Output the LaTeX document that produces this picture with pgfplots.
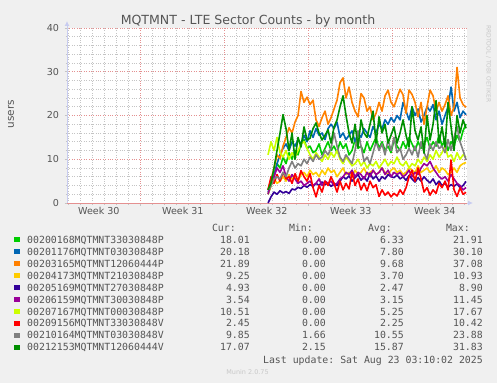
\documentclass[border=0pt]{standalone}
\usepackage{fontspec}
\setmainfont{DejaVu Sans}
\newfontfamily\monofont{DejaVu Sans Mono}
\usepackage{pgfplots}
\pgfplotsset{compat=1.18}
\usepackage{pgfplotstable}
\usetikzlibrary{arrows.meta}
\frenchspacing
\definecolor{c1}{HTML}{00CC00}
\definecolor{c2}{HTML}{0066B3}
\definecolor{c3}{HTML}{FF8000}
\definecolor{c4}{HTML}{FFCC00}
\definecolor{c5}{HTML}{330099}
\definecolor{c6}{HTML}{990099}
\definecolor{c7}{HTML}{CCFF00}
\definecolor{c8}{HTML}{FF0000}
\definecolor{c9}{HTML}{808080}
\definecolor{c10}{HTML}{008F00}
\definecolor{bg}{HTML}{F0F0F0}
\definecolor{txt}{HTML}{555555}
\definecolor{axc}{HTML}{C8CCF0}
\definecolor{mgrid}{HTML}{E49090}
\definecolor{ngrid}{HTML}{C4C4C4}
\definecolor{faint}{HTML}{C8C8C8}

\pgfplotstableread{
d     lg    bl    or    ye    db    pu    yg    rd    gy    dg
16.75 2.0   2.5   3.0   2.0   0.0   2.0   11.0  3.0   3.0   3.0
17.00 4.0   4.0   5.3   4.0   1.4   4.5   14.0  6.0   4.0   4.6
17.25 6.5   6.0   8.0   5.5   2.5   6.0   12.0  4.5   5.5   8.0
17.50 9.0   9.0   11.0  4.5   2.0   8.0   15.0  6.5   6.0   12.0
17.75 8.0   11.0  10.2  5.0   2.8   7.0   11.5  5.0   5.5   16.0
18.00 10.5  12.5  13.0  6.0   2.3   8.5   10.5  7.0   7.0   20.2
18.25 9.0   13.5  15.0  5.0   2.6   6.0   12.0  5.5   6.0   17.0
18.50 11.5  12.0  17.2  6.5   2.2   5.0   10.0  6.0   8.0   12.0
18.75 10.0  14.0  16.0  5.5   3.2   6.5   11.5  4.5   9.5   16.0
19.00 12.0  13.0  18.5  6.0   3.0   5.5   10.5  6.7   8.0   10.0
19.25 11.0  14.5  20.0  5.0   3.6   4.5   12.0  5.0   9.0   15.0
19.50 13.5  13.5  25.5  6.5   3.3   5.0   13.5  7.4   8.5   12.8
19.75 14.5  15.5  23.0  7.0   4.0   4.0   14.0  6.0   10.0  17.4
20.00 12.5  14.0  24.2  6.0   3.6   4.5   12.5  5.0   9.0   14.4
20.25 13.0  16.5  22.5  7.5   4.2   5.0   11.0  6.7   10.5  14.8
20.50 11.5  15.0  23.5  6.5   3.8   4.0   10.0  3.5   9.5   17.0
20.75 12.0  17.0  19.0  7.0   4.5   4.5   11.5  1.4   11.0  18.3
21.00 13.5  15.5  17.5  6.0   4.0   5.5   10.5  4.0   10.0  16.0
21.25 11.0  16.0  19.5  7.5   4.8   4.0   9.5   2.5   10.5  14.4
21.50 12.5  14.5  21.0  6.5   4.2   5.0   11.0  5.0   12.0  15.5
21.75 14.0  17.0  18.0  8.0   4.6   4.5   10.0  4.0   11.0  16.7
22.00 12.0  18.0  19.5  7.0   3.8   5.0   11.5  6.0   12.5  13.7
22.25 13.0  17.0  21.5  7.5   4.5   4.0   10.5  4.5   16.0  17.4
22.50 11.5  18.5  23.5  6.0   4.0   4.5   12.0  2.5   13.0  19.0
22.75 14.0  15.0  27.5  7.0   5.0   5.5   10.0  5.0   10.5  22.0
23.00 12.5  16.0  28.6  8.0   6.0   6.0   9.0   3.0   9.5   24.5
23.25 13.5  14.5  24.0  6.5   5.5   7.0   10.5  4.5   11.0  20.0
23.50 11.0  15.5  26.5  7.0   6.2   6.5   9.5   3.2   10.0  16.0
23.75 12.0  16.5  23.0  6.0   5.0   7.5   8.5   7.0   9.0   13.7
24.00 14.5  14.0  21.0  7.5   5.8   6.0   9.0   4.0   12.0  18.0
24.25 12.5  16.0  19.7  6.5   6.5   7.0   10.0  5.5   16.5  12.8
24.50 13.0  15.0  25.0  7.0   5.2   6.5   8.5   3.0   13.0  19.0
24.75 11.5  17.0  24.0  8.0   6.0   5.5   9.5   4.5   9.5   16.0
25.00 14.0  16.0  21.0  6.5   5.0   7.0   8.0   2.8   10.5  15.0
25.25 12.0  15.0  22.0  7.0   6.8   6.0   9.0   5.0   9.0   18.0
25.50 13.5  17.5  19.0  7.5   5.5   7.5   8.5   3.5   11.5  21.0
25.75 15.0  16.0  20.5  6.5   6.2   6.5   9.5   4.2   14.0  13.7
26.00 12.5  18.0  23.0  7.0   5.0   7.0   8.0   1.5   12.0  19.7
26.25 14.0  17.0  21.0  8.0   6.0   8.0   9.0   3.0   13.5  16.0
26.50 12.0  19.0  24.5  7.0   5.5   6.5   10.0  1.8   11.0  18.0
26.75 13.0  18.0  25.8  6.5   6.5   7.5   8.5   2.5   14.5  13.7
27.00 11.5  19.5  23.0  7.5   6.0   6.0   9.5   1.4   12.0  15.5
27.25 14.5  18.5  22.0  8.0   5.8   7.0   9.0   2.2   15.0  17.4
27.50 13.0  20.0  24.0  7.0   6.4   6.5   10.5  1.6   11.5  13.7
27.75 12.0  19.0  26.0  7.5   5.5   7.0   9.0   3.0   12.5  16.0
28.00 14.0  23.0  24.7  6.5   6.0   6.0   8.5   2.0   10.0  19.0
28.25 12.5  21.0  20.5  7.0   5.2   6.5   9.5   3.5   11.0  15.5
28.50 15.0  19.0  25.8  8.0   6.3   7.5   8.0   6.0   12.5  12.8
28.75 13.5  22.0  24.8  7.5   5.5   6.0   9.0   7.5   11.0  22.0
29.00 12.0  20.0  23.0  7.0   4.8   7.0   8.5   5.0   13.0  16.5
29.25 14.0  21.5  19.7  8.5   5.8   6.5   10.0  8.0   10.5  14.4
29.50 12.5  18.5  23.0  7.0   5.0   8.0   9.0   5.5   14.0  17.4
29.75 13.5  20.0  18.0  7.5   6.0   9.0   10.5  2.5   11.5  11.4
30.00 15.0  22.0  22.0  8.0   5.2   8.5   9.5   3.5   10.0  20.0
30.25 12.5  21.0  25.8  7.0   4.6   9.5   11.0  1.8   13.5  14.4
30.50 14.0  22.5  24.5  7.5   5.5   8.0   10.0  3.0   12.0  18.0
30.75 13.0  19.0  21.0  8.5   4.2   7.0   12.0  2.2   14.0  23.4
31.00 15.5  21.0  23.0  7.0   5.0   6.0   10.5  4.5   12.5  13.7
31.25 13.0  18.0  21.0  8.0   4.0   5.5   11.5  3.5   13.0  17.4
31.50 14.5  20.0  22.5  7.5   4.5   6.0   13.0  5.0   11.5  12.8
31.75 12.0  22.0  24.5  6.5   3.6   5.0   10.5  3.0   14.5  23.0
32.00 14.0  26.5  20.0  7.0   4.2   6.5   11.0  9.8   12.0  17.4
32.25 13.0  21.0  22.0  8.0   3.8   5.5   9.5   3.0   15.0  12.0
32.50 15.5  23.0  31.0  7.0   4.4   4.5   11.5  1.5   17.5  20.0
32.75 14.0  19.5  24.0  8.5   3.5   4.0   10.0  3.5   14.0  16.0
33.00 16.5  21.0  22.5  9.0   4.0   3.0   11.0  2.0   12.0  19.0
33.25 18.01 20.18 21.89 9.25  4.93  3.54  10.51 2.45  9.85  17.07
}\data

\begin{document}
\begin{tikzpicture}[x=1bp,y=1bp]
\fill[bg] (0,0) rectangle (497,383);
\useasboundingbox (0,0) rectangle (497,383);
\begin{axis}[
  at={(67bp,180bp)}, anchor=south west,
  scale only axis, width=400bp, height=175bp,
  xmin=0, xmax=33.33, ymin=0, ymax=40,
  axis background/.style={fill=white},
  axis x line*=bottom, axis y line*=left,
  x axis line style={draw=axc, line width=1bp, shorten >=-6bp, -{Latex[length=5bp,width=5bp]}},
  y axis line style={draw=axc, line width=1bp, shorten >=-7bp, -{Latex[length=5bp,width=5bp]}},
  ytick={10,20,30,40},
  minor ytick={2,4,6,8,12,14,16,18,22,24,26,28,32,34,36,38},
  extra y ticks={0},
  extra y tick style={major grid style={draw=mgrid, solid, line width=1bp}},
  xtick={6.1,13.1,20.1,27.1},
  xticklabels={{},{},{},{}},
  minor xtick={0.1,1.1,2.1,3.1,4.1,5.1,7.1,8.1,9.1,10.1,11.1,12.1,14.1,15.1,16.1,17.1,18.1,19.1,21.1,22.1,23.1,24.1,25.1,26.1,28.1,29.1,30.1,31.1,32.1,33.1},
  extra x ticks={2.65,9.65,16.65,23.65,30.65},
  extra x tick labels={Week 30,Week 31,Week 32,Week 33,Week 34},
  extra x tick style={grid=none, major tick length=0pt},
  grid=both,
  major grid style={draw=mgrid, dotted, line width=0.6bp},
  minor grid style={draw=ngrid, dotted, line width=0.6bp},
  tick align=outside,
  major tick length=2.5bp, minor tick length=1.5bp,
  tick style={draw=ngrid, line width=0.6bp},
  ticklabel style={font=\fontsize{9.6}{11}\selectfont, text=txt},
  /pgf/number format/assume math mode=true,
  xticklabel style={yshift=-1bp},
  yticklabel style={xshift=-2bp},
  every axis plot/.append style={line width=1.6bp, line join=round, no markers},
]
\addplot[c1]  table[x=d,y=lg] {\data};
\addplot[c2]  table[x=d,y=bl] {\data};
\addplot[c3]  table[x=d,y=or] {\data};
\addplot[c4]  table[x=d,y=ye] {\data};
\addplot[c5]  table[x=d,y=db] {\data};
\addplot[c6]  table[x=d,y=pu] {\data};
\addplot[c7]  table[x=d,y=yg] {\data};
\addplot[c8]  table[x=d,y=rd] {\data};
\addplot[c9]  table[x=d,y=gy] {\data};
\addplot[c10] table[x=d,y=dg] {\data};
\end{axis}
% title and labels
\node[anchor=base, text=txt, font=\fontsize{12.6}{14}\selectfont] at (248,359) {MQTMNT - LTE Sector Counts - by month};
\node[rotate=90, text=txt, font=\fontsize{10.5}{12}\selectfont] at (11,269) {users};
\node[rotate=-90, anchor=west, text=faint, font=\fontsize{6}{7}\selectfont, inner sep=0pt] at (488.5,358) {RRDTOOL / TOBI OETIKER};
% legend table
\begin{scope}[every node/.style={inner sep=0pt, text=txt, font=\monofont\fontsize{9.9}{11}\selectfont}]
\node[anchor=base east] at (236,151.5) {Cur:};
\node[anchor=base east] at (313,151.5) {Min:};
\node[anchor=base east] at (392,151.5) {Avg:};
\node[anchor=base east] at (470,151.5) {Max:};
\foreach \i/\c/\n/\cur/\mn/\av/\mx in {
 0/c1/00200168MQTMNT33030848P/18.01/0.00/6.33/21.91,
 1/c2/00201176MQTMNT03030848P/20.18/0.00/7.80/30.10,
 2/c3/00203165MQTMNT12060444P/21.89/0.00/9.68/37.08,
 3/c4/00204173MQTMNT21030848P/9.25/0.00/3.70/10.93,
 4/c5/00205169MQTMNT27030848P/4.93/0.00/2.47/8.90,
 5/c6/00206159MQTMNT30030848P/3.54/0.00/3.15/11.45,
 6/c7/00207167MQTMNT00030848P/10.51/0.00/5.25/17.67,
 7/c8/00209156MQTMNT33030848V/2.45/0.00/2.25/10.42,
 8/c9/00210164MQTMNT03030848V/9.85/1.66/10.55/23.88,
 9/c10/00212153MQTMNT12060444V/17.07/2.15/15.87/31.83}{
  \pgfmathsetmacro{\yb}{383-243.3-11.95*\i}
  \fill[\c] (14,\yb+1) rectangle (20,\yb+6);
  \node[anchor=base west] at (27,\yb) {\n};
  \node[anchor=base east] at (250,\yb) {\cur};
  \node[anchor=base east] at (326,\yb) {\mn};
  \node[anchor=base east] at (404,\yb) {\av};
  \node[anchor=base east] at (483,\yb) {\mx};
}
\node[anchor=base east] at (483,19.7) {Last update: Sat Aug 23 03:10:02 2025};
\end{scope}
\node[anchor=base, inner sep=0pt, text=faint, font=\fontsize{6.5}{7}\selectfont] at (247.5,9) {Munin 2.0.75};
\end{tikzpicture}
\end{document}
